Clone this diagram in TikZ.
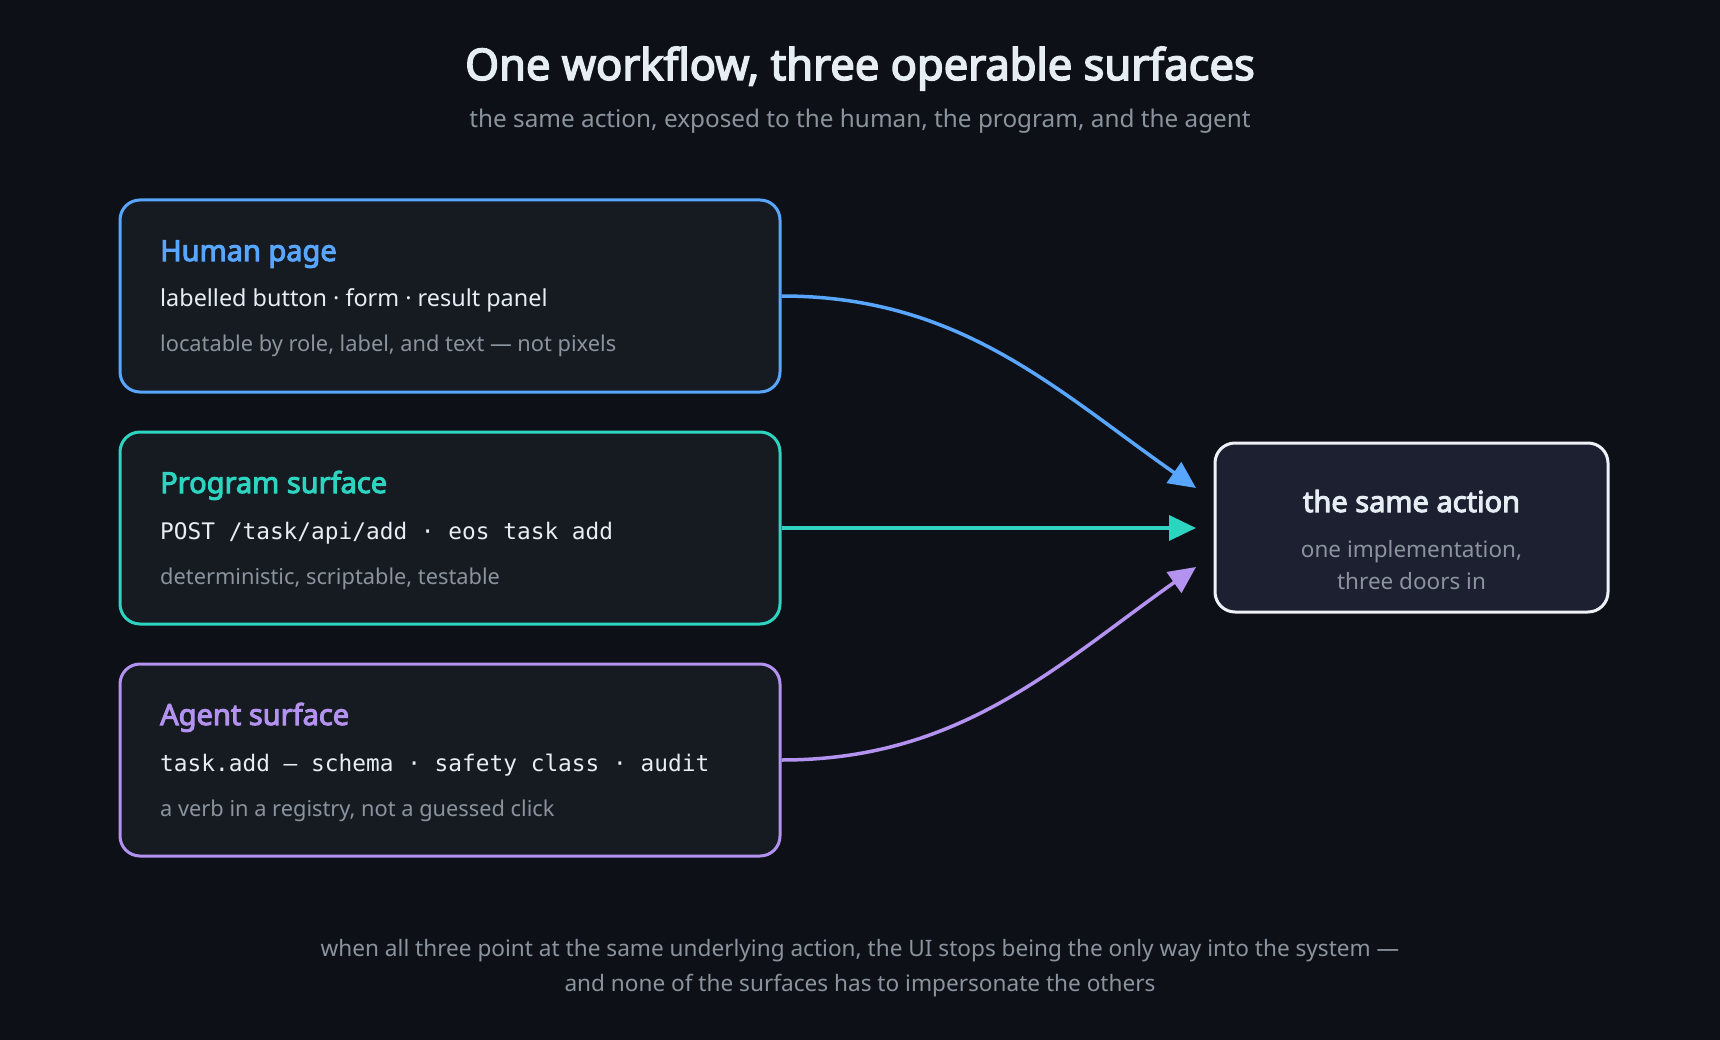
\documentclass[tikz,border=0pt]{standalone}
\usepackage{fontspec}
\setmainfont{Noto Sans}[BoldFont={Noto Sans},BoldFeatures={FakeBold=3.5}]
\setmonofont{DejaVu Sans Mono}
\usetikzlibrary{arrows.meta}
\definecolor{bg}{HTML}{0D1117}
\definecolor{boxfill}{HTML}{161B22}
\definecolor{actfill}{HTML}{1C2030}
\definecolor{actline}{HTML}{EEF2F7}
\definecolor{cblue}{HTML}{58A6FF}
\definecolor{cteal}{HTML}{2DD4BF}
\definecolor{cpurple}{HTML}{B392F0}
\definecolor{cgray}{HTML}{8B949E}
\definecolor{ctext}{HTML}{E6EDF3}
\newcommand{\fs}[1]{\fontsize{#1}{#1}\selectfont}
\tikzset{
  surface/.style={draw, line width=3pt, fill=boxfill, rounded corners=20pt, minimum width=660pt, minimum height=192pt, inner sep=0pt},
  actbox/.style={draw=actline, line width=3pt, fill=actfill, rounded corners=20pt, minimum width=393pt, minimum height=169pt, inner sep=0pt},
  txt/.style={anchor=base west, inner sep=0pt},
  ctxt/.style={anchor=base, inner sep=0pt},
  head/.style={txt, font=\fs{29}\bfseries},
  body/.style={txt, text=ctext, font=\fs{23.4}},
  mono/.style={txt, text=ctext, font=\fs{22.8}\ttfamily},
  note/.style={txt, text=cgray, font=\fs{21.8}},
  conn/.style={line width=3.5pt, -{Triangle[length=27pt,width=25pt]}},
}
\begin{document}
\begin{tikzpicture}[x=1pt,y=-1pt]
\fill[bg] (0,0) rectangle (1720,1040);
\useasboundingbox (0,0) rectangle (1720,1040);

\node[ctxt, text=ctext, font=\fs{43.5}\bfseries] (title) at (860,80) {One workflow, three operable surfaces};
\node[ctxt, text=cgray, font=\fs{24.3}] (subtitle) at (860,128) {the same action, exposed to the human, the program, and the agent};

\node[surface, draw=cblue] (human) at (450,296) {};
\node[head, text=cblue] (h1) at (160,261) {Human page};
\node[body] (h2) at (160,307) {labelled button · form · result panel};
\node[note] (h3) at (160,352) {locatable by role, label, and text — not pixels};

\node[surface, draw=cteal] (program) at (450,528) {};
\node[head, text=cteal] (p1) at (160,493) {Program surface};
\node[mono] (p2) at (160,539) {POST /task/api/add · eos task add};
\node[note] (p3) at (160,584) {deterministic, scriptable, testable};

\node[surface, draw=cpurple] (agent) at (450,760) {};
\node[head, text=cpurple] (a1) at (160,725) {Agent surface};
\node[mono] (a2) at (160,771) {task.add — schema · safety class · audit};
\node[note] (a3) at (160,816) {a verb in a registry, not a guessed click};

\node[actbox] (action) at (1411.5,527.5) {};
\node[ctxt, text=ctext, font=\fs{29}\bfseries] (t1) at (1411.5,512) {the same action};
\node[ctxt, text=cgray, font=\fs{22.5}] (t2) at (1411.5,557) {one implementation,};
\node[ctxt, text=cgray, font=\fs{22.5}] (t3) at (1411.5,589) {three doors in};

\coordinate (inH) at (1196,488);
\coordinate (inP) at (1196,528);
\coordinate (inA) at (1196,567);

\draw[conn, cblue] (human.east) .. controls (960,296) and (1056,390) .. (inH);
\draw[conn, cteal] (program.east) -- (inP);
\draw[conn, cpurple] (agent.east) .. controls (960,760) and (1056,666) .. (inA);

\node[ctxt, text=cgray, font=\fs{22.6}] (f1) at (860,956) {when all three point at the same underlying action, the UI stops being the only way into the system —};
\node[ctxt, text=cgray, font=\fs{22.6}] (f2) at (860,991) {and none of the surfaces has to impersonate the others};
\end{tikzpicture}
\end{document}
